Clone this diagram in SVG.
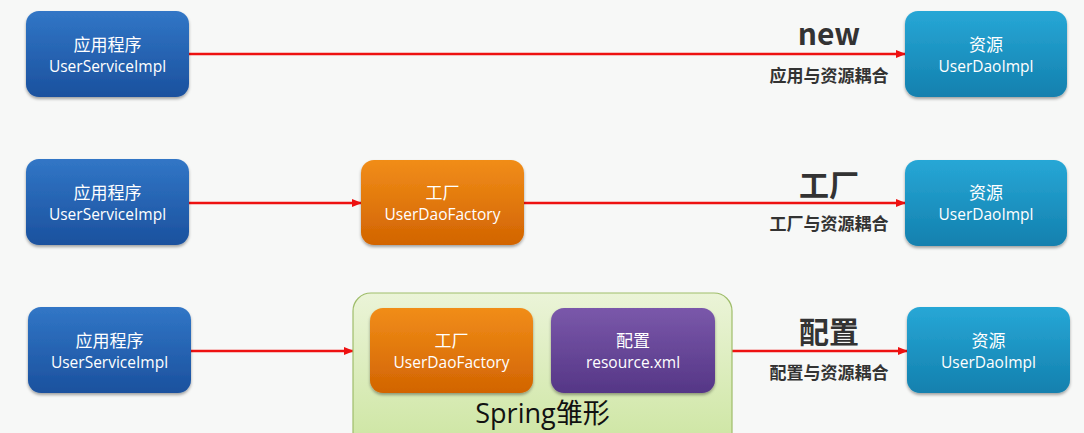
<svg xmlns="http://www.w3.org/2000/svg" width="1084" height="433" viewBox="0 0 1084 433">
<defs>
<linearGradient id="gBlue" x1="0" y1="0" x2="0" y2="1"><stop offset="0" stop-color="#3176c6"/><stop offset="1" stop-color="#1b519e"/></linearGradient>
<linearGradient id="gCyan" x1="0" y1="0" x2="0" y2="1"><stop offset="0" stop-color="#27a7d6"/><stop offset="1" stop-color="#1380ae"/></linearGradient>
<linearGradient id="gOrange" x1="0" y1="0" x2="0" y2="1"><stop offset="0" stop-color="#f18d18"/><stop offset="1" stop-color="#d26402"/></linearGradient>
<linearGradient id="gPurple" x1="0" y1="0" x2="0" y2="1"><stop offset="0" stop-color="#7a58aa"/><stop offset="1" stop-color="#553686"/></linearGradient>
<linearGradient id="gGreen" x1="0" y1="0" x2="0" y2="1"><stop offset="0" stop-color="#ebf4d8"/><stop offset="1" stop-color="#cce5a0"/></linearGradient>
<filter id="sh" x="-10%" y="-10%" width="120%" height="130%"><feDropShadow dx="0" dy="2" stdDeviation="1.6" flood-color="#000" flood-opacity="0.35"/></filter>
<marker id="arr" markerWidth="10" markerHeight="8" refX="9" refY="4" orient="auto" markerUnits="userSpaceOnUse"><path d="M0,0 L10,4 L0,8 z" fill="#ee1111"/></marker>
</defs>
<style>
.box{filter:url(#sh);}
.t{font-family:"Open Sans","Noto Sans","Noto Sans CJK SC",sans-serif;fill:#ffffff;text-anchor:middle;font-size:15.5px;}
.cj{font-family:"Noto Sans CJK SC",sans-serif;font-size:17px;}
.lbl{font-family:"Noto Sans CJK SC","Noto Sans",sans-serif;fill:#333333;text-anchor:middle;font-weight:bold;}
.c{stroke:#ee1111;stroke-width:2.5;fill:none;marker-end:url(#arr);}
</style>
<rect width="1084" height="433" fill="#f7f8f7"/>
<g id="connectors">
<line class="c" x1="189" y1="54" x2="905" y2="54"/>
<line class="c" x1="189" y1="203" x2="361" y2="203"/>
<line class="c" x1="524" y1="203" x2="905" y2="203"/>
<line class="c" x1="191" y1="351" x2="353" y2="351"/>
<line class="c" x1="732" y1="351" x2="907" y2="351"/>
</g>
<g id="labels">
<text class="lbl" x="829" y="45" font-size="30" font-family="Open Sans, sans-serif">new</text>
<text class="lbl" x="829" y="82" font-size="17">应用与资源耦合</text>
<text class="lbl" x="829" y="196" font-size="30">工厂</text>
<text class="lbl" x="829" y="230" font-size="17">工厂与资源耦合</text>
<text class="lbl" x="829" y="343" font-size="30">配置</text>
<text class="lbl" x="829" y="379" font-size="17">配置与资源耦合</text>
</g>
<g id="app1"><rect class="box" x="26" y="11" width="163" height="86" rx="13" fill="url(#gBlue)"/><text class="t cj" x="107.5" y="51">应用程序</text><text class="t" x="107.5" y="72">UserServiceImpl</text></g>
<g id="res1"><rect class="box" x="905" y="11" width="162" height="86" rx="13" fill="url(#gCyan)"/><text class="t cj" x="986" y="51">资源</text><text class="t" x="986" y="72">UserDaoImpl</text></g>
<g id="app2"><rect class="box" x="26" y="159" width="163" height="86" rx="13" fill="url(#gBlue)"/><text class="t cj" x="107.5" y="199">应用程序</text><text class="t" x="107.5" y="220">UserServiceImpl</text></g>
<g id="factory2"><rect class="box" x="361" y="160" width="163" height="85" rx="13" fill="url(#gOrange)"/><text class="t cj" x="442.5" y="199">工厂</text><text class="t" x="442.5" y="220">UserDaoFactory</text></g>
<g id="res2"><rect class="box" x="905" y="160" width="162" height="86" rx="13" fill="url(#gCyan)"/><text class="t cj" x="986" y="199">资源</text><text class="t" x="986" y="220">UserDaoImpl</text></g>
<g id="app3"><rect class="box" x="28" y="307" width="163" height="86" rx="13" fill="url(#gBlue)"/><text class="t cj" x="109.5" y="347">应用程序</text><text class="t" x="109.5" y="368">UserServiceImpl</text></g>
<g id="spring"><rect x="353" y="293" width="379" height="160" rx="18" fill="url(#gGreen)" stroke="#9fbd6a" stroke-width="1.2"/><text x="542.5" y="423" text-anchor="middle" font-family="Open Sans, Noto Sans CJK SC, sans-serif" font-size="27" fill="#111111">Spring雏形</text></g>
<g id="factory3"><rect class="box" x="370" y="308" width="163" height="85" rx="13" fill="url(#gOrange)"/><text class="t cj" x="451.5" y="347">工厂</text><text class="t" x="451.5" y="368">UserDaoFactory</text></g>
<g id="config3"><rect class="box" x="551" y="308" width="164" height="85" rx="13" fill="url(#gPurple)"/><text class="t cj" x="633" y="347">配置</text><text class="t" x="633" y="368">resource.xml</text></g>
<g id="res3"><rect class="box" x="907" y="307" width="163" height="86" rx="13" fill="url(#gCyan)"/><text class="t cj" x="988.5" y="347">资源</text><text class="t" x="988.5" y="368">UserDaoImpl</text></g>
</svg>
